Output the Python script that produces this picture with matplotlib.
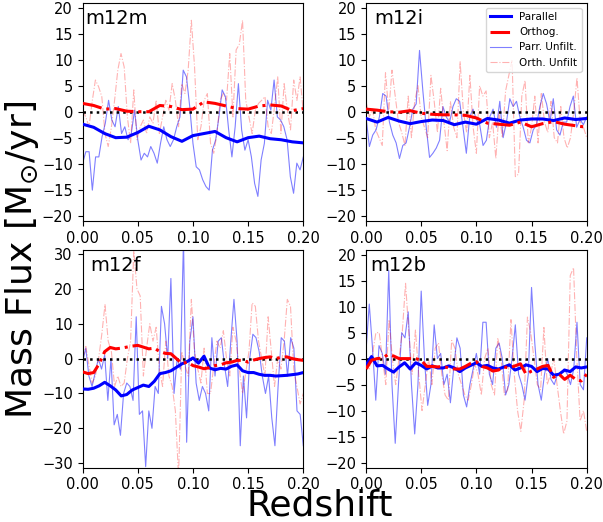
import numpy as np
import matplotlib
matplotlib.use('Agg')
import matplotlib.pyplot as plt

# filtered curves (Parallel / Orthog.) and unfiltered curves for each halo
m12m_par = [-2.4, -3.0, -4.2, -5.0, -4.9, -4.0, -2.8, -3.5, -4.8, -5.7, -4.6,
            -4.2, -3.8, -5.0, -5.8, -5.0, -4.7, -5.2, -5.4, -5.8, -6.0]
m12m_orth = [1.6, 1.2, 0.5, 0.6, 0.1, 0.0, 0.0, 1.2, 1.0, 0.4, 0.5,
             1.9, 1.6, 1.1, 0.6, 0.5, 1.1, 1.3, 1.1, 0.2, 0.6]
m12m_par_raw = [-9.9, -7.7, -7.7, -15.1, -8.7, -8.7, -4.8, -2.2, 2.2, -1.6, -2.9,
                1.0, -4.2, -2.9, -5.4, -4.2, 0.3, -5.4, -9.3, -8.0, -8.7, -6.7,
                -8.0, -9.9, -6.1, -2.9, -5.4, -6.7, -5.4, -2.9, -1.0, 8.0, 6.7,
                1.0, -6.1, -10.6, -11.2, -13.1, -14.4, -15.1, -7.4, -5.4, -1.0,
                4.2, 2.9, -3.5, -8.7, -2.9, 5.4, -3.5, -7.4, -5.4, -8.7, -13.8,
                -16.3, -9.3, -6.1, 2.2, 0.3, 6.1, -1.0, -1.6, -2.9, -5.4, -12.5,
                -15.7, -9.9, -11.2, -8.7]
m12m_orth_raw = [0.3, -1.0, -2.9, 2.0, 6.1, 4.8, 2.9, -4.2, -6.7, -3.0, 2.2, 8.0,
                 11.2, 8.6, -1.0, -6.1, 4.2, -5.4, -2.9, -1.6, -4.2, -1.0, -2.2,
                 2.2, -4.2, -1.0, 2.2, 0.3, 5.4, 2.2, -2.9, 5.4, 3.5, 8.0, 17.6,
                 8.6, -5.4, -2.9, 2.2, 3.5, -6.1, -8.0, -4.2, 2.2, 3.5, 2.2, 11.2,
                 -1.0, 11.9, 13.0, 17.6, 2.2, -1.0, -4.2, 0.3, 1.6, 2.2, 2.9, -2.9,
                 -4.2, 1.0, 6.7, -4.2, 5.4, 0.3, -3.5, 6.1, 2.2, 6.7, -0.3]

m12i_par = [-1.3, -2.0, -1.1, -1.8, -2.3, -1.9, -1.6, -1.7, -2.5, -2.0, -2.4,
            -1.3, -1.6, -2.2, -1.6, -1.4, -1.4, -1.7, -1.2, -1.5, -1.3]
m12i_orth = [0.5, 0.3, 0.0, -0.1, 0.2, -0.3, -0.5, -0.6, -0.6, -0.7, -1.2,
             -2.2, -2.4, -2.6, -2.0, -2.9, -2.3, -1.9, -2.4, -2.7, -3.0]
m12i_par_raw = [-1.0, -6.7, -4.5, -3.5, -1.0, 3.5, 3.0, -2.0, -4.5, -6.0, -9.0,
                -6.5, -6.0, -3.0, 0.5, 1.5, 11.8, 4.0, -3.0, -8.8, -8.0, -7.0,
                -5.5, 1.0, -1.0, -2.0, 1.0, 2.5, 2.0, -3.0, -8.0, -1.0, 0.5, -1.5,
                -2.5, -6.5, -5.5, -1.0, 0.5, -3.0, 2.0, -5.0, -2.0, 2.5, 1.0, 2.0,
                -1.0, -3.0, -5.5, -6.0, -3.5, -2.5, 1.0, 3.5, 1.5, -2.0, 2.5, -3.5,
                -4.5, -2.0, -2.0, 1.0, 3.0, -3.0, -1.5, -2.5, -1.0]
m12i_orth_raw = [2.0, -1.0, 0.5, -3.5, -5.0, -6.5, 7.5, 0.0, 8.0, 3.0, -2.0, -4.0,
                 -6.5, 3.0, -5.0, 2.0, 5.0, -1.0, -3.0, -5.0, 7.0, 2.0, -4.0, 4.5,
                 -2.0, -7.5, 2.0, -3.0, -5.0, 9.6, 0.0, -4.0, 7.0, -3.0, -8.0, 5.0,
                 3.0, 4.0, -5.0, -2.0, -9.0, 0.0, -5.0, 4.0, 7.0, 10.0, -12.5,
                 -12.0, 3.0, 6.0, -6.0, -3.0, 3.0, -6.0, 3.5, -2.0, -4.0, 2.0,
                 -5.0, -6.0, 1.0, -5.0, -7.0, -5.0, 0.0, 6.5, -2.0, -3.0, -5.0]

m12f_par = [-8.7, -8.8, -8.5, -7.8, -6.8, -7.8, -9.0, -10.7, -10.3, -9.0, -8.3,
            -7.6, -8.0, -6.5, -4.3, -4.0, -3.5, -2.5, -1.5, -0.8, 0.2, -1.3, 0.7,
            -2.7, -3.2, -2.8, -3.0, -2.2, -1.8, -3.5, -4.0, -4.0, -4.5, -4.8,
            -4.8, -5.0, -4.9, -4.8, -4.6, -4.4, -4.0]
m12f_orth = [-3.8, -4.3, -4.0, -1.5, 2.0, 3.2, 2.8, 3.0, 3.3, 3.6, 3.8, 3.3, 2.8,
             3.0, 2.0, 1.5, 1.4, 0.0, -1.4, -1.0, -2.0, -2.4, -2.9, -2.6, -2.0,
             -1.8, -1.2, -1.0, -0.5, -0.5, -1.0, -0.4, 0.0, 0.3, 0.5, 0.0, 0.4,
             0.5, 0.0, -0.3, -0.5]
m12f_par_raw = [-1, 3, -5, -8, -4, 0, -3, 1, -12, 0, -19, -16, -22, -10, -7, -8,
                -12, 12, -16, -15, -31, -15, -20, -8, -10, 15, 10, 0, 23, -10, 0,
                -3, 34, -24, 5, 12, -7, -12, -8, -10, -15, 6, -5, 5, 6, -2, -8, 5,
                17, 5, -25, -5, -17, 0, 7, 6, 2, -5, -10, -5, -17, -25, -8, 6, 5,
                -5, 6, 3, -15, -16, -25]
m12f_orth_raw = [0, 3.5, -2, -7, -5, 0, 7, 15.5, 5, 2, -8, -5, -8, -7, 0, 5, 31,
                 20, 18, -5, 3, 10, 5, 9, -3, -8, 5, -5, -8, -15, -34, 2, -2, -5,
                 17, 2, -3, -7, 3, -10, -10, -2, 5, 3, 8, 0, -5, 9, 5, -3, -10, -4,
                 2, 16, 15, 5, 0, -5, 12, 2, -8, 0, -3, 5, 17, 15, -3, -8, -13, -10]

m12b_par = [-1.2, 0.4, -1.4, -1.3, -2.0, -2.6, -1.6, -0.8, -2.0, -0.8, -1.3,
            -2.0, -1.4, -1.8, -1.8, -1.4, -1.8, -2.5, -1.8, -1.3, -0.8, -1.5,
            -1.3, -1.8, -2.0, -1.6, -1.2, -2.2, -1.8, -1.2, -1.5, -2.5, -1.9,
            -2.0, -3.2, -3.0, -2.2, -2.5, -1.6, -1.8, -1.6]
m12b_orth = [-2.0, -0.3, 0.0, 0.1, 0.8, 0.5, 0.0, 0.0, 0.0, 0.0, -0.3, -1.5,
             -1.5, -1.6, -1.5, -1.8, -2.0, -2.0, -1.5, -0.9, -0.6, -1.5, -1.8,
             -2.4, -2.2, -1.6, -1.8, -1.4, -1.0, -3.0, -2.4, -2.0, -1.5, -1.3,
             -3.6, -3.0, -4.0, -3.2, -4.0, -4.3, -3.0]
m12b_par_raw = [1.5, 10.5, 2, -8, 2.5, 1, -3, 17, -5, -16.3, -5, 5, 4, 9, -5,
                -14.5, -5, 13, 0, -9, -5, 6.5, 0, 1, -5, -3, -8.5, -2, 4, 2, -7,
                -9.3, -5, -2, 1, -3, 7, 7, -3, -5, 2, 3, 0, -7, -5, 0, 6.5, -3, -5,
                -8, -3, 13.7, 3, -5, -8, -3, 0, -4, -5, -3, -3, -2, -3, -5, -2, 7,
                -5, -6, 4]
m12b_orth_raw = [-1, -2, 1, 5, 5, 0, -5, 7.5, 0, -5, 0, 5, 14.5, 5, -3, 5.5, -3,
                 -10, -5, 0, -5, 2, 3, -3, -7, -8, 3.5, 2, -3, -5, -7, -8, -5, -1,
                 -3, -7, 0, 2, -5, -7, 4, 0, -7, -6, 7.5, -3, -10, -14, -8, 8, 5,
                 0, -5, -6, 6, -5, -3, 0, -5, -10, -14.5, -12, 16, 17.5, 0, -12,
                 -10, -14]

halos = ['m12m', 'm12i', 'm12f', 'm12b']
filt_par = [m12m_par, m12i_par, m12f_par, m12b_par]
filt_orth = [m12m_orth, m12i_orth, m12f_orth, m12b_orth]
raw_par = [m12m_par_raw, m12i_par_raw, m12f_par_raw, m12b_par_raw]
raw_orth = [m12m_orth_raw, m12i_orth_raw, m12f_orth_raw, m12b_orth_raw]
ylims = [21, 21, 31.3, 21]
ysteps = [5, 5, 10, 5]
label_x = [0.01, 0.038, 0.036, 0.021]

fig = plt.figure(figsize=(6.03, 5.22), dpi=100)
lefts = [0.137, 0.607, 0.137, 0.607]
bottoms = [0.577, 0.577, 0.104, 0.104]

for i in range(4):
    ax = fig.add_axes([lefts[i], bottoms[i], 0.366, 0.418])
    z = lambda d: np.linspace(0, 0.2, len(d))
    ax.plot(z(filt_par[i]), filt_par[i], color='b', lw=2.2, label='Parallel', zorder=4)
    ax.plot(z(filt_orth[i]), filt_orth[i], color='r', lw=2.2, ls='-.', label='Orthog.', zorder=4)
    ax.plot(z(raw_par[i]), raw_par[i], color='b', lw=0.8, alpha=0.5, label='Parr. Unfilt.')
    ax.plot(z(raw_orth[i]), raw_orth[i], color='r', lw=0.8, alpha=0.3, ls='-.', label='Orth. Unfilt')
    ax.axhline(0, color='k', ls=':', lw=1.8, zorder=3)
    ax.set_xlim(0, 0.2)
    ax.set_ylim(-ylims[i], ylims[i])
    top = int(ylims[i] // ysteps[i]) * ysteps[i]
    ax.set_yticks(np.arange(-top, top + 1, ysteps[i]))
    ax.set_xticks([0.0, 0.05, 0.1, 0.15, 0.2])
    ax.set_xticklabels(['0.00', '0.05', '0.10', '0.15', '0.20'])
    ax.tick_params(labelsize=10.5)
    ax.text(label_x[i], 0.9, halos[i], transform=ax.transAxes, fontsize=14)
    if i == 1:
        ax.legend(loc='upper right', fontsize=7.5)

fig.text(0.531, 0.031, 'Redshift', fontsize=26, ha='center', va='center')
fig.text(0.036, 0.502, r'Mass Flux [M$_{\odot}$/yr]', fontsize=26, rotation=90,
         ha='center', va='center')

plt.savefig('out.png', dpi=100)
